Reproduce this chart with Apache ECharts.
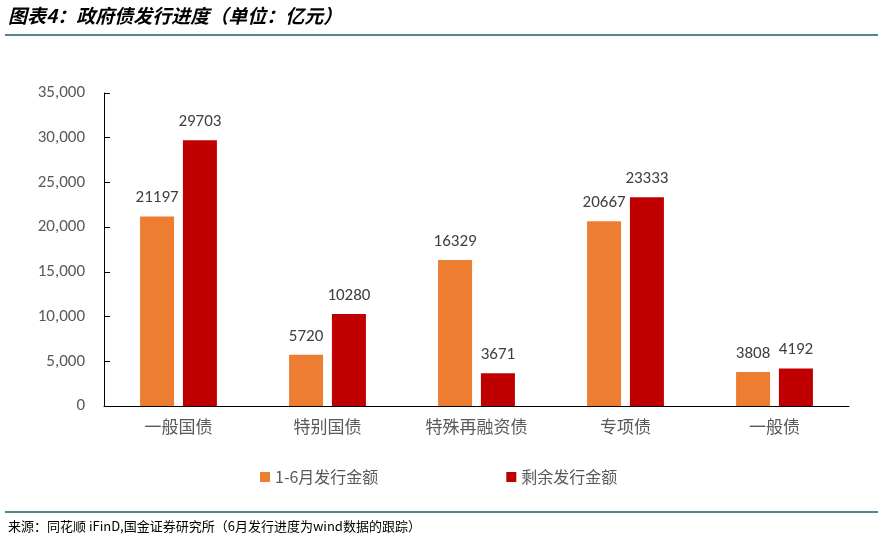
<!DOCTYPE html>
<html><head><meta charset="utf-8">
<script src="https://cdn.jsdelivr.net/npm/echarts@6/dist/echarts.min.js"></script>
<style>html,body{margin:0;padding:0;background:#fff}#c{width:878px;height:546px}</style>
</head><body><div id="c"></div>
<script>
const categories = ['一般国债','特别国债','特殊再融资债','专项债','一般债'];
const issuedH1 = [21197, 5720, 16329, 20667, 3808];
const remaining = [29703, 10280, 3671, 23333, 4192];
const seriesNames = ['1-6月发行金额','剩余发行金额'];
const titleText = '图表4：政府债发行进度（单位：亿元）';
const sourceText = '来源：同花顺 iFinD,国金证券研究所（6月发行进度为wind数据的跟踪）';

const chart = echarts.init(document.getElementById('c'));
const fontCN = '"Microsoft YaHei","Noto Sans CJK SC",sans-serif';
const fontNum = 'Calibri,Carlito,"Open Sans",sans-serif';
chart.setOption({
  animation:false,
  textStyle:{fontFamily:fontCN},
  grid:{left:104,right:29,top:93,bottom:140},
  legend:{
    bottom:56,left:255,itemGap:128,itemWidth:10,itemHeight:10,icon:'rect',
    textStyle:{fontSize:16,color:'#595959',fontFamily:fontCN},
    data:seriesNames
  },
  xAxis:{
    type:'category',data:categories,
    axisLine:{lineStyle:{color:'#000',width:1}},
    axisTick:{inside:true,length:5,lineStyle:{color:'#000'}},
    axisLabel:{fontSize:17,color:'#595959',margin:12,fontFamily:fontCN}
  },
  yAxis:{
    type:'value',min:0,max:35000,interval:5000,
    splitLine:{show:false},
    axisLine:{show:true,lineStyle:{color:'#000',width:1}},
    axisTick:{show:true,inside:true,length:6,lineStyle:{color:'#000'}},
    axisLabel:{fontSize:17,color:'#595959',margin:19,fontFamily:fontNum,
      formatter:v=>v.toLocaleString('en-US')}
  },
  series:[
    {name:seriesNames[0],type:'bar',data:issuedH1,barWidth:34,barGap:'26%',
     itemStyle:{color:'#ED7D31'},
     label:{show:true,position:'top',distance:10,fontSize:17,color:'#404040',fontFamily:fontNum}},
    {name:seriesNames[1],type:'bar',data:remaining,barWidth:34,
     itemStyle:{color:'#C00000'},
     label:{show:true,position:'top',distance:10,fontSize:17,color:'#404040',fontFamily:fontNum}}
  ],
  graphic:[
    {type:'text',left:8,top:6,style:{text:titleText,fontSize:19,fontWeight:'bold',fontStyle:'italic',fill:'#000',fontFamily:'"KaiTi","Noto Sans CJK SC",sans-serif'}},
    {type:'line',shape:{x1:5,y1:35,x2:878,y2:35},style:{stroke:'#1B5E6B',lineWidth:1.5}},
    {type:'line',shape:{x1:5,y1:512,x2:878,y2:512},style:{stroke:'#1B5E6B',lineWidth:1.5}},
    {type:'text',left:8,top:520,style:{text:sourceText,fontSize:13,fill:'#000',fontFamily:'"SimSun","Noto Sans CJK SC",sans-serif'}}
  ]
});
</script></body></html>
